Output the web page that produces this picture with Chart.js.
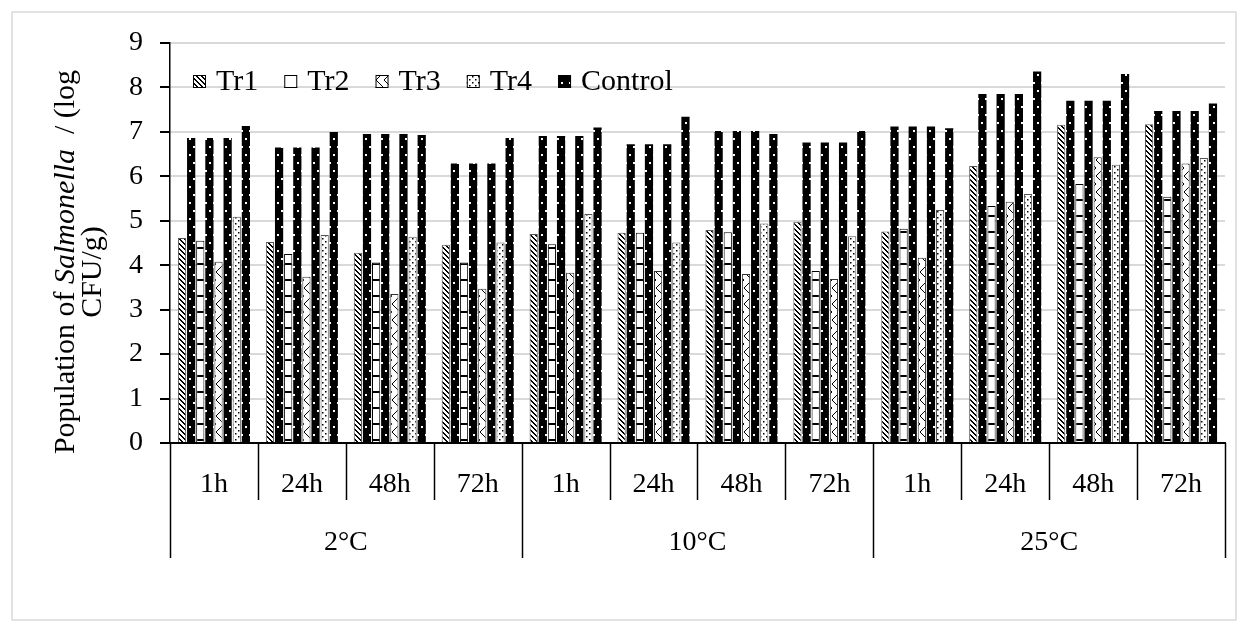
<!DOCTYPE html>
<html>
<head>
<meta charset="utf-8">
<script src="https://cdn.jsdelivr.net/npm/chart.js@4.4.0/dist/chart.umd.min.js"></script>
<style>
  html, body { margin: 0; padding: 0; background: #fff; }
</style>
</head>
<body>
<canvas id="myChart" width="1248" height="632"></canvas>
<script>
'use strict';

// categories: sampling time within each storage temperature
var times = ['1h', '24h', '48h', '72h', '1h', '24h', '48h', '72h', '1h', '24h', '48h', '72h'];
var temps = ['2°C', '10°C', '25°C'];
var yTicks = [0, 1, 2, 3, 4, 5, 6, 7, 8, 9];

// log CFU/g
var tr1 = [4.61, 4.52, 4.28, 4.46, 4.70, 4.73, 4.79, 4.98, 4.76, 6.23, 7.16, 7.17];
var tr2 = [4.55, 4.25, 4.06, 4.06, 4.47, 4.73, 4.74, 3.87, 4.82, 5.33, 5.83, 5.54];
var tr3 = [4.08, 3.74, 3.35, 3.47, 3.83, 3.87, 3.80, 3.69, 4.17, 5.43, 6.43, 6.29];
var tr4 = [5.09, 4.68, 4.64, 4.51, 5.15, 4.51, 4.94, 4.65, 5.24, 5.60, 6.26, 6.41];
var controlTr1 = [6.86, 6.65, 6.95, 6.29, 6.91, 6.72, 7.02, 6.76, 7.12, 7.85, 7.70, 7.47];
var controlTr2 = [6.86, 6.65, 6.95, 6.29, 6.91, 6.72, 7.02, 6.76, 7.12, 7.85, 7.70, 7.47];
var controlTr3 = [6.86, 6.65, 6.95, 6.29, 6.91, 6.72, 7.02, 6.76, 7.12, 7.85, 7.70, 7.47];
var control = [7.13, 7.00, 6.93, 6.86, 7.10, 7.34, 6.95, 7.02, 7.08, 8.36, 8.30, 7.64];

var FONT = "'Liberation Serif', 'Times New Roman', serif";

function makePattern(w, h, draw) {
    var c = document.createElement('canvas');
    c.width = w;
    c.height = h;
    var g = c.getContext('2d');
    draw(g);
    return g.createPattern(c, 'repeat');
}

var patTr1 = makePattern(5, 5, function (g) {
    g.fillStyle = '#fff'; g.fillRect(0, 0, 5, 5);
    g.fillStyle = '#000';
    for (var i = 0; i < 5; i++) {
        g.fillRect(i, i, 1, 1);
        g.fillRect((i + 1) % 5, i, 1, 1);
    }
});
var patTr2 = makePattern(8, 16, function (g) {
    g.fillStyle = '#fff'; g.fillRect(0, 0, 8, 16);
    g.fillStyle = '#000'; g.fillRect(0, 7, 8, 2);
});
var patTr3 = makePattern(8, 16, function (g) {
    g.fillStyle = '#fff'; g.fillRect(0, 0, 8, 16);
    g.fillStyle = '#000';
    for (var i = 0; i < 8; i++) {
        g.fillRect(i, i, 1, 1);
        g.fillRect(7 - i, 8 + i, 1, 1);
    }
});
var patTr4 = makePattern(6, 6, function (g) {
    g.fillStyle = '#fff'; g.fillRect(0, 0, 6, 6);
    g.fillStyle = '#000';
    g.fillRect(1, 1, 1.5, 1.5);
    g.fillRect(4, 4, 1.5, 1.5);
});
var patCtrl = makePattern(8, 16, function (g) {
    g.fillStyle = '#000'; g.fillRect(0, 0, 8, 16);
    g.fillStyle = '#fff';
    g.fillRect(1, 2, 2, 2);
    g.fillRect(5, 10, 2, 2);
});

function trSet(label, data, pat, border) {
    return { label: label, data: data, backgroundColor: pat, borderColor: border, borderWidth: 1, showInLegend: true };
}
function ctrlSet(label, data, show) {
    return { label: label, data: data, backgroundColor: patCtrl, borderColor: '#000', borderWidth: 0, showInLegend: show };
}

var datasets = [
    trSet('Tr1', tr1, patTr1, '#555'),
    ctrlSet('Control Tr1', controlTr1, false),
    trSet('Tr2', tr2, patTr2, '#000'),
    ctrlSet('Control Tr2', controlTr2, false),
    trSet('Tr3', tr3, patTr3, '#333'),
    ctrlSet('Control Tr3', controlTr3, false),
    trSet('Tr4', tr4, patTr4, '#555'),
    ctrlSet('Control', control, true)
];

// axis labels below the plot, two rows, plus legend and y title
var decor = {
    id: 'decor',
    afterDraw: function (chart) {
        var ctx = chart.ctx;
        var xs = chart.scales.x;
        var area = chart.chartArea;
        var n = times.length;
        var step = xs.getPixelForValue(1) - xs.getPixelForValue(0);

        ctx.save();
        // chart frame
        ctx.strokeStyle = '#d9d9d9';
        ctx.lineWidth = 1.5;
        ctx.strokeRect(12, 12, 1224, 608);

        // dividers
        ctx.strokeStyle = '#000';
        ctx.lineWidth = 1.5;
        for (var i = 0; i <= n; i++) {
            var x = Math.round(xs.getPixelForValue(i) - step / 2) + 0.5;
            var long = (i % 4 === 0);
            ctx.beginPath();
            ctx.moveTo(x, area.bottom);
            ctx.lineTo(x, area.bottom + (long ? 115 : 57));
            ctx.stroke();
        }

        ctx.fillStyle = '#000';
        ctx.font = '28px ' + FONT;
        ctx.textAlign = 'center';
        ctx.textBaseline = 'alphabetic';
        for (var j = 0; j < n; j++) {
            ctx.fillText(times[j], xs.getPixelForValue(j), area.bottom + 49);
        }
        for (var k = 0; k < temps.length; k++) {
            var cx = (xs.getPixelForValue(k * 4) + xs.getPixelForValue(k * 4 + 3)) / 2;
            ctx.fillText(temps[k], cx, area.bottom + 107);
        }

        // legend
        ctx.font = '30px ' + FONT;
        ctx.textAlign = 'left';
        ctx.textBaseline = 'middle';
        var lx = 193, ly = 81;
        chart.data.datasets.forEach(function (ds) {
            if (!ds.showInLegend) return;
            ctx.fillStyle = ds.backgroundColor;
            ctx.fillRect(lx, ly - 6, 13, 13);
            ctx.strokeStyle = '#000';
            ctx.lineWidth = 1;
            ctx.strokeRect(lx + 0.5, ly - 5.5, 12, 12);
            ctx.fillStyle = '#000';
            ctx.fillText(ds.label, lx + 23, ly + 1);
            lx += 23 + ctx.measureText(ds.label).width + 26;
        });

        // y axis title, rotated, with italic genus name
        var parts = [['Population of ', ''], ['Salmonella', 'italic '], ['  / (log', '']];
        ctx.translate(66, 262);
        ctx.rotate(-Math.PI / 2);
        ctx.textBaseline = 'middle';
        var total = 0;
        parts.forEach(function (p) {
            ctx.font = p[1] + '30px ' + FONT;
            total += ctx.measureText(p[0]).width;
        });
        var px = -total / 2;
        parts.forEach(function (p) {
            ctx.font = p[1] + '30px ' + FONT;
            ctx.fillText(p[0], px, 0);
            px += ctx.measureText(p[0]).width;
        });
        ctx.font = '30px ' + FONT;
        ctx.textAlign = 'center';
        ctx.fillText('CFU/g)', -10, 27);
        ctx.restore();
    }
};

var ctx = document.getElementById('myChart');
var myChart = new Chart(ctx, {
    type: 'bar',
    data: {
        labels: times,
        datasets: datasets
    },
    options: {
        responsive: false,
        animation: false,
        layout: { padding: { top: 43, right: 23, left: 0, bottom: 0 } },
        datasets: {
            bar: { categoryPercentage: 0.83, barPercentage: 0.9 }
        },
        plugins: {
            legend: { display: false },
            tooltip: { enabled: false }
        },
        scales: {
            x: {
                type: 'category',
                offset: true,
                grid: { display: false },
                ticks: { display: false },
                border: { color: '#000', width: 2 },
                afterFit: function (scale) { scale.height = 189; }
            },
            y: {
                min: 0,
                max: 9,
                afterBuildTicks: function (scale) {
                    scale.ticks = yTicks.map(function (v) { return { value: v }; });
                },
                grid: {
                    color: function (c) { return c.tick && c.tick.value === 0 ? 'rgba(0,0,0,0)' : '#d9d9d9'; },
                    lineWidth: 2,
                    tickColor: '#000',
                    tickLength: 10
                },
                border: { color: '#000', width: 1.5 },
                ticks: {
                    color: '#000',
                    font: { family: FONT, size: 28 },
                    padding: 17
                },
                afterFit: function (scale) { scale.width = 170; }
            }
        }
    },
    plugins: [decor]
});
</script>
</body>
</html>
